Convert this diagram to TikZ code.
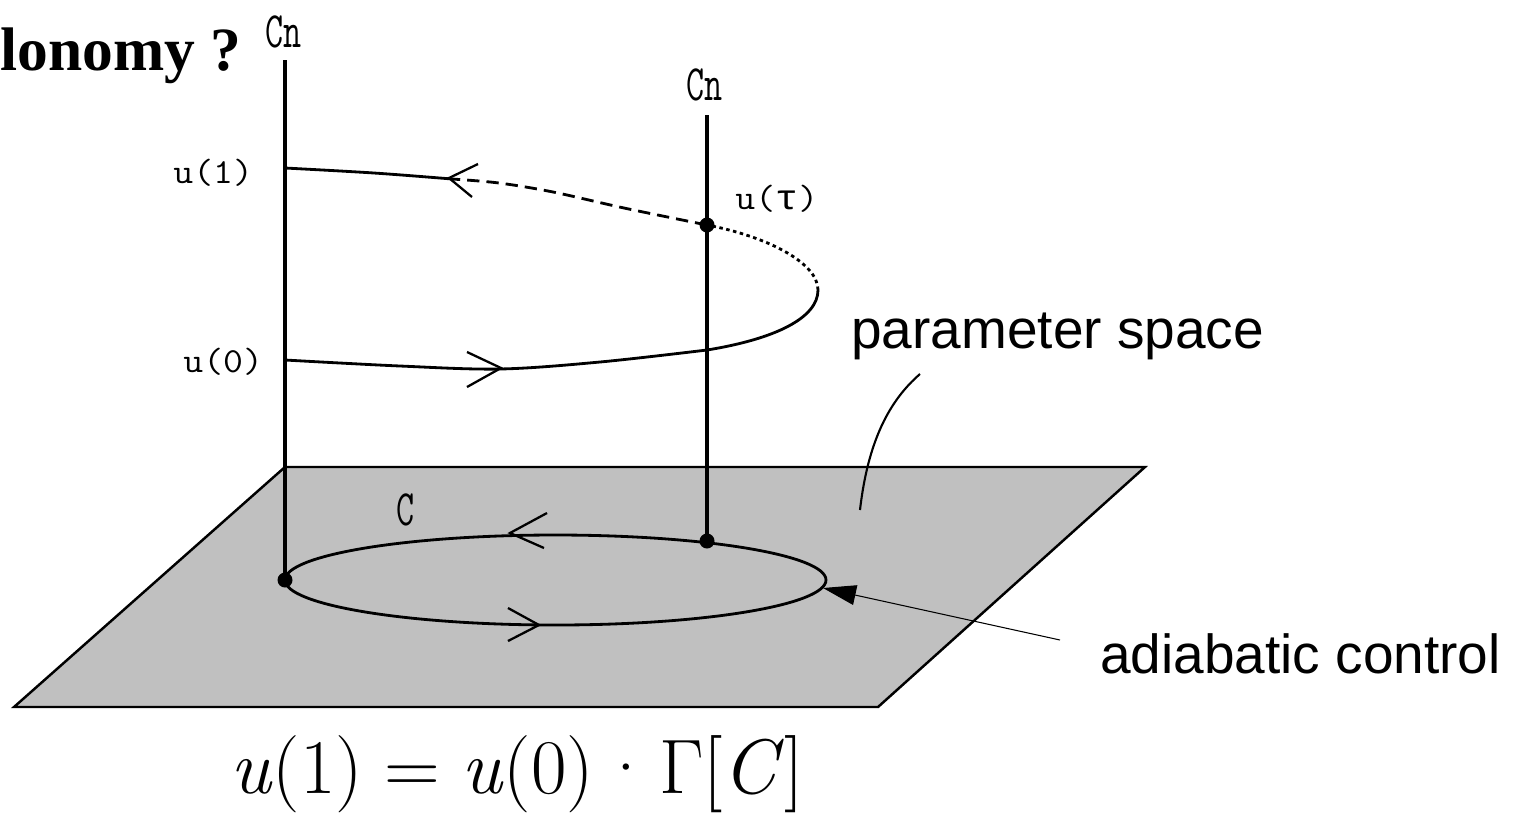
\documentclass[tikz,border=0pt]{standalone}
\usepackage{fontspec}
\usetikzlibrary{arrows.meta}
\newfontfamily\sansf{Liberation Sans}
\newfontfamily\seriff{Liberation Serif}
\newfontfamily\monof{Liberation Mono}
\newfontfamily\lmf{Latin Modern Roman}
\definecolor{planegray}{HTML}{C0C0C0}
\tikzset{
  axisline/.style={line width=1.8pt},
  curveline/.style={line width=1.6pt},
  edgeline/.style={line width=1.4pt},
  chev/.style={line width=1.3pt, line join=miter},
  dotnode/.style={circle, fill=black, inner sep=0pt, minimum size=0.3cm},
  pix/.style={font=\ttfamily\fontsize{20}{23}\selectfont, inner sep=0pt},
  lab/.style={font=\sansf\fontsize{31.3}{36}\selectfont, inner sep=0pt},
  dashpart/.style={curveline, dash pattern=on 7pt off 4pt},
  dotpart/.style={curveline, dash pattern=on 2pt off 2pt},
}
\newcommand{\tallpix}[1]{\scalebox{1}[1.45]{#1}}
\newcommand{\widepix}[1]{\scalebox{1.1}[1]{#1}}
\newcommand{\thk}{\hspace{0.278em}}
\newcommand{\med}{\hspace{0.06em}}
\begin{document}
\begin{tikzpicture}[x=0.02cm,y=-0.02cm]
\useasboundingbox (0,0) rectangle (1524,816);
% parameter plane
\draw[edgeline, fill=planegray] (285,467) -- (1145,467) -- (878,707) -- (14,707) -- cycle;
% loop C in the plane
\draw[curveline] (555.5,580) ellipse [x radius=270.5, y radius=45];
\draw[chev] (547,513) -- (510,533) -- (544,548);
\draw[chev] (508,608) -- (539,625) -- (508,641);
% fibres
\coordinate (axLtop) at (285,60);
\coordinate (axRtop) at (707,115);
\coordinate (pL) at (285,580);
\coordinate (pR) at (707,541);
\coordinate (uT) at (707,225);
\draw[axisline] (axLtop) -- (pL);
\draw[axisline] (axRtop) -- (uT) -- (pR);
% horizontal lift (spiral)
\coordinate (u0) at (285,360);
\coordinate (u1) at (285,168);
\coordinate (tip) at (818,290);
\draw[curveline] plot[smooth, tension=0.55] coordinates {(285,360) (400,366) (500,369) (600,362) (707,350)}
  .. controls (775,339) and (818,318) .. (tip);
\draw[dotpart] (tip) .. controls (818,262) and (765,236) .. (uT);
\draw[dashpart] plot[smooth, tension=0.55] coordinates {(707,225) (624,208) (553,192) (499,183) (452,179)};
\draw[curveline] plot[smooth, tension=0.55] coordinates {(452,179) (374,173) (285,168)};
\draw[chev] (478,164) -- (449,178) -- (472,197);
\draw[chev] (467,352) -- (501,368) -- (467,387);
% dots
\node[dotnode] (dL) at (pL) {};
\node[dotnode] (dR) at (pR) {};
\node[dotnode] (dT) at (uT) {};
% labels
\node[pix, anchor=base west] (cnL) at (265,47) {\tallpix{Cn}};
\node[pix, anchor=base west] (cnR) at (686,100) {\tallpix{Cn}};
\node[pix, anchor=base west] (l1) at (173,183) {\widepix{u(1)}};
\node[pix, anchor=base west] (l0) at (183,372) {\widepix{u(0)}};
\node[pix, anchor=base west] (lt) at (735,209) {\widepix{u({\monof τ})}};
\node[pix, anchor=base west] (lc) at (396,525) {\tallpix{C}};
% parameter space label and leader
\node[lab, anchor=base west] (ps) at (851,348) {parameter space};
\coordinate (psA) at (860,510);
\coordinate (psB) at (920,374);
\draw[line width=1.2pt] (psA) .. controls (868,440) and (890,400) .. (psB);
% adiabatic control label and arrow
\node[lab, anchor=base west] (ad) at (1100,673) {adiabatic control};
\coordinate (adA) at (1060,640);
\coordinate (adTip) at (823,588);
\draw[line width=0.6pt, -{Triangle[length=0.66cm, width=0.40cm]}] (adA) -- (adTip);
% title and formula
\node[anchor=base west, inner sep=0pt, font=\seriff\bfseries\fontsize{35}{40}\selectfont] (title) at (0,70) {lonomy ?};
\node[anchor=base west, inner sep=0pt, font=\lmf\fontsize{44}{52}\selectfont] (eq) at (230,793) {\textit{u}(1)\thk=\thk\textit{u}(0)\med·\med Γ[\textit{C}]};
\end{tikzpicture}
\end{document}
